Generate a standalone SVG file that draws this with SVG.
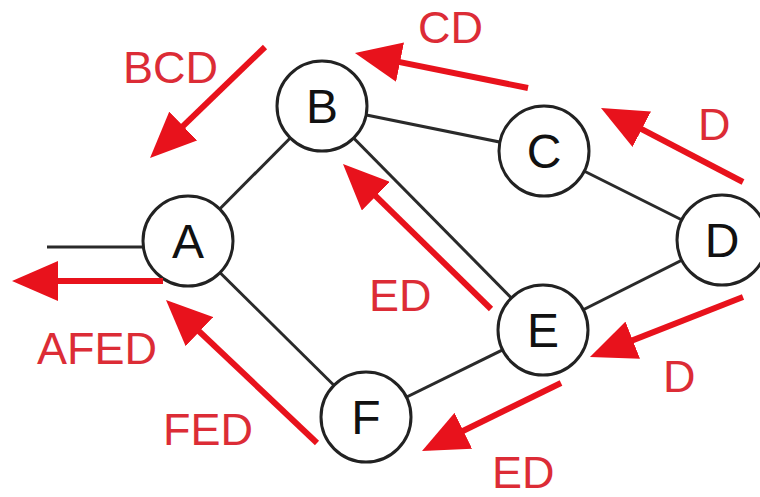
<svg xmlns="http://www.w3.org/2000/svg" width="760" height="497" viewBox="0 0 760 497">
  <style>
    .edge { stroke: #2a2a2a; stroke-width: 3; fill: none; }
    .node circle { fill: #ffffff; stroke: #222222; stroke-width: 3; }
    .node text { font-family: "Liberation Sans", Arial, sans-serif; font-size: 48px; fill: #111111; text-anchor: middle; }
    .flow { stroke: #e8121c; stroke-width: 6; fill: none; marker-end: url(#head); }
    .lbl { font-family: "Liberation Sans", Arial, sans-serif; font-size: 45px; fill: #dc2c36; }
  </style>
  <defs>
    <marker id="head" markerUnits="userSpaceOnUse" viewBox="0 0 46 40" markerWidth="46" markerHeight="40" refX="38" refY="20" orient="auto">
      <path d="M0,0 L46,20 L0,40 z" fill="#e8121c"/>
    </marker>
  </defs>
  <rect width="760" height="497" fill="#ffffff"/>

  <!-- links between routers -->
  <g id="links">
    <line class="edge" x1="47" y1="247" x2="188" y2="247"/>
    <line class="edge" x1="188" y1="241" x2="322" y2="106"/>
    <line class="edge" x1="188" y1="241" x2="366" y2="417"/>
    <line class="edge" x1="322" y1="106" x2="544" y2="151"/>
    <line class="edge" x1="322" y1="106" x2="543" y2="330"/>
    <line class="edge" x1="544" y1="151" x2="722" y2="240"/>
    <line class="edge" x1="722" y1="240" x2="543" y2="330"/>
    <line class="edge" x1="543" y1="330" x2="366" y2="417"/>
  </g>

  <!-- routers -->
  <g id="node-A" class="node"><circle cx="188" cy="241" r="45"/><text x="188" y="258">A</text></g>
  <g id="node-B" class="node"><circle cx="322" cy="106" r="45"/><text x="322" y="123">B</text></g>
  <g id="node-C" class="node"><circle cx="544" cy="151" r="45"/><text x="544" y="168">C</text></g>
  <g id="node-D" class="node"><circle cx="722" cy="240" r="45"/><text x="722" y="257">D</text></g>
  <g id="node-E" class="node"><circle cx="543" cy="330" r="45"/><text x="543" y="347">E</text></g>
  <g id="node-F" class="node"><circle cx="366" cy="417" r="45"/><text x="366" y="434">F</text></g>

  <!-- path advertisements -->
  <g id="advertisements">
    <line class="flow" x1="265" y1="47" x2="155.8" y2="152.4"/>
    <line class="flow" x1="528" y1="88" x2="362.8" y2="54.6"/>
    <line class="flow" x1="743" y1="182" x2="608.1" y2="111.7"/>
    <line class="flow" x1="491" y1="309" x2="348.7" y2="169.6"/>
    <line class="flow" x1="163" y1="281" x2="20" y2="281"/>
    <line class="flow" x1="317" y1="443" x2="171.8" y2="305.5"/>
    <line class="flow" x1="743" y1="297" x2="597.4" y2="354.1"/>
    <line class="flow" x1="561" y1="383" x2="429.2" y2="447.5"/>
  </g>

  <g id="labels">
    <text class="lbl" x="123" y="83">BCD</text>
    <text class="lbl" x="418" y="43">CD</text>
    <text class="lbl" x="698" y="140">D</text>
    <text class="lbl" x="369" y="311">ED</text>
    <text class="lbl" x="37" y="364">AFED</text>
    <text class="lbl" x="163" y="445">FED</text>
    <text class="lbl" x="663" y="392">D</text>
    <text class="lbl" x="492" y="488">ED</text>
  </g>
</svg>
